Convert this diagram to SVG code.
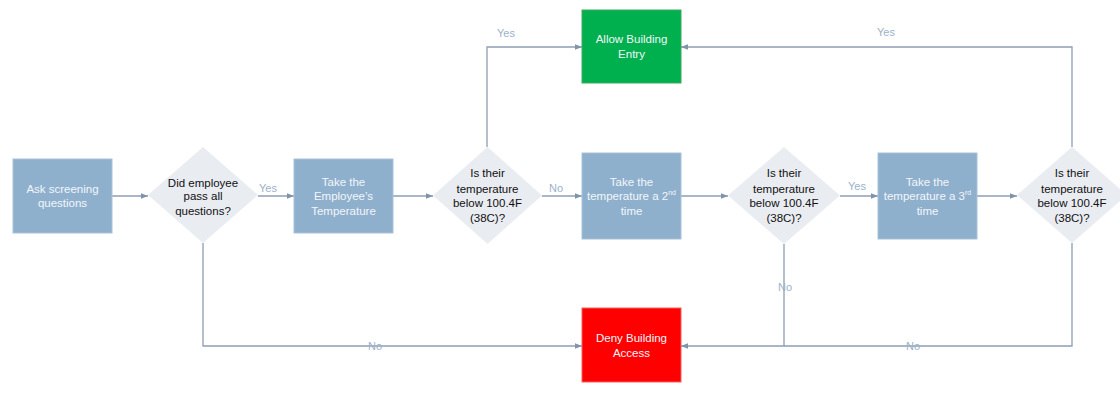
<svg xmlns="http://www.w3.org/2000/svg" width="1120" height="398" viewBox="0 0 1120 398">
<style>
.box{fill:#8fb0cd;stroke:#a9c2d8;stroke-width:1}
.dia{fill:#e9ecf1}
.bt{font-family:"Liberation Sans",Arial,sans-serif;font-size:11.5px;fill:#f2f6fa;text-anchor:middle}
.dt{font-family:"Liberation Sans",Arial,sans-serif;font-size:11.5px;fill:#111;text-anchor:middle}
.lbl{font-family:"Liberation Sans",Arial,sans-serif;font-size:11px;fill:#9cb1c8;text-anchor:middle}
.con{fill:none;stroke:#8e9eb2;stroke-width:1.3}
</style>
<defs>
<marker id="ah" viewBox="0 0 10 10" refX="10" refY="5" markerWidth="7" markerHeight="7" markerUnits="userSpaceOnUse" orient="auto">
<path d="M0,1 L10,5 L0,9 Z" fill="#7f93aa"/>
</marker>
</defs>
<rect width="1120" height="398" fill="#fff"/>
<g id="connectors">
<path class="con" marker-end="url(#ah)" d="M112,196 H148"/>
<path class="con" marker-end="url(#ah)" d="M258,196 H294"/>
<path class="con" marker-end="url(#ah)" d="M393,196 H433"/>
<path class="con" marker-end="url(#ah)" d="M542,196 H582"/>
<path class="con" marker-end="url(#ah)" d="M681,196 H728"/>
<path class="con" marker-end="url(#ah)" d="M840,196 H878"/>
<path class="con" marker-end="url(#ah)" d="M977,196 H1017"/>
<path class="con" marker-end="url(#ah)" d="M487,147 V47 H582"/>
<path class="con" marker-end="url(#ah)" d="M1072,147 V47 H681"/>
<path class="con" marker-end="url(#ah)" d="M203,243 V346 H582"/>
<path class="con" marker-end="url(#ah)" d="M784,244 V346 H681"/>
<path class="con" d="M1072,243 V346 H784"/>
<text class="lbl" x="268" y="192">Yes</text>
<text class="lbl" x="556" y="192">No</text>
<text class="lbl" x="857" y="190">Yes</text>
<text class="lbl" x="506" y="37">Yes</text>
<text class="lbl" x="886" y="36">Yes</text>
<text class="lbl" x="375" y="350">No</text>
<text class="lbl" x="785" y="291">No</text>
<text class="lbl" x="913" y="350">No</text>
</g>
<g id="ask">
<rect class="box" x="13" y="159" width="99" height="74"/>
<text class="bt" x="62.5" y="193">Ask screening</text>
<text class="bt" x="62.5" y="207">questions</text>
</g>
<g id="d1">
<polygon class="dia" points="203,147 258,195 203,243 148,195"/>
<text class="dt" x="203" y="187">Did employee</text>
<text class="dt" x="203" y="200">pass all</text>
<text class="dt" x="203" y="215">questions?</text>
</g>
<g id="take1">
<rect class="box" x="294" y="159" width="99" height="74"/>
<text class="bt" x="343.5" y="186">Take the</text>
<text class="bt" x="343.5" y="200">Employee’s</text>
<text class="bt" x="343.5" y="215">Temperature</text>
</g>
<g id="d2">
<polygon class="dia" points="487.5,147 542,195.5 487.5,244 433,195.5"/>
<text class="dt" x="487.5" y="177">Is their</text>
<text class="dt" x="487.5" y="193">temperature</text>
<text class="dt" x="487.5" y="207">below 100.4F</text>
<text class="dt" x="487.5" y="222">(38C)?</text>
</g>
<g id="take2">
<rect class="box" x="582" y="153" width="99" height="86"/>
<text class="bt" x="631.5" y="186">Take the</text>
<text class="bt" x="631.5" y="200">temperature a 2<tspan font-size="7" dy="-5">nd</tspan></text>
<text class="bt" x="631.5" y="215">time</text>
</g>
<g id="d3">
<polygon class="dia" points="784,147 840,195.5 784,244 728,195.5"/>
<text class="dt" x="784" y="177">Is their</text>
<text class="dt" x="784" y="193">temperature</text>
<text class="dt" x="784" y="207">below 100.4F</text>
<text class="dt" x="784" y="222">(38C)?</text>
</g>
<g id="take3">
<rect class="box" x="878" y="153" width="99" height="86"/>
<text class="bt" x="927.5" y="186">Take the</text>
<text class="bt" x="927.5" y="200">temperature a 3<tspan font-size="7" dy="-5">rd</tspan></text>
<text class="bt" x="927.5" y="215">time</text>
</g>
<g id="d4">
<polygon class="dia" points="1072,147 1127,195 1072,243 1017,195"/>
<text class="dt" x="1072" y="177">Is their</text>
<text class="dt" x="1072" y="193">temperature</text>
<text class="dt" x="1072" y="207">below 100.4F</text>
<text class="dt" x="1072" y="222">(38C)?</text>
</g>
<g id="allow">
<rect x="582" y="10" width="99" height="73" fill="#00b04f" stroke="#3fa962" stroke-width="1"/>
<text class="bt" x="631.5" y="43" fill="#fff">Allow Building</text>
<text class="bt" x="631.5" y="58">Entry</text>
</g>
<g id="deny">
<rect x="582" y="308" width="99" height="74" fill="#ff0000" stroke="#f06060" stroke-width="1"/>
<text class="bt" x="631.5" y="342">Deny Building</text>
<text class="bt" x="631.5" y="357">Access</text>
</g>
</svg>
